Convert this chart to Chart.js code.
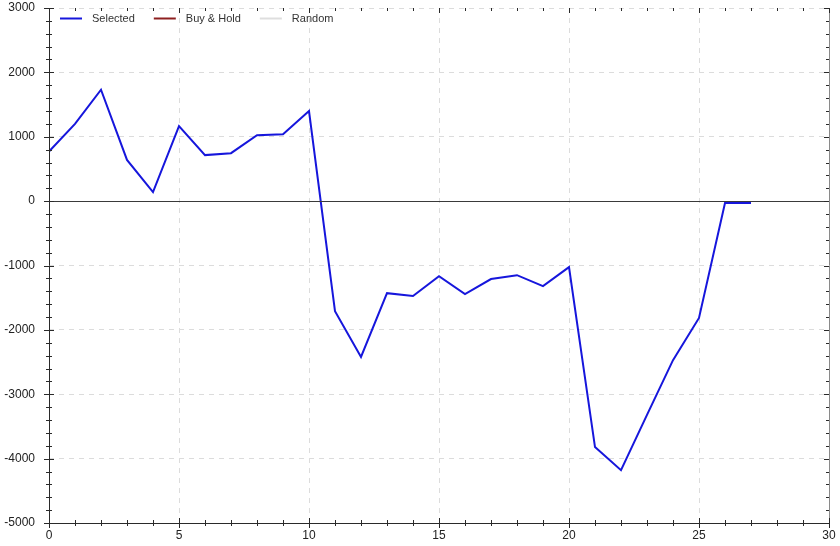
<!DOCTYPE html>
<html>
<head>
    <meta charset="utf-8" />
    <title>Equity curve</title>
    <style>
        html, body { margin: 0; padding: 0; background: #fff; }
        #wrap { width: 840px; height: 546px; }
    </style>
</head>
<body>
    <div id="wrap"><canvas id="myChart" width="840" height="546"></canvas></div>

    <script src="https://cdn.jsdelivr.net/npm/chart.js"></script>
    <script type="text/javascript">
        // trade index and cumulative result of the selected strategy
        const tradeIndex = [0, 1, 2, 3, 4, 5, 6, 7, 8, 9, 10, 11, 12, 13, 14,
            15, 16, 17, 18, 19, 20, 21, 22, 23, 24, 25, 26, 27];
        const selected = [770, 1200, 1730, 640, 140, 1165, 715, 745, 1025, 1040, 1400,
            -1710, -2420, -1430, -1475, -1165, -1445, -1210, -1150, -1320, -1025,
            -3820, -4180, -3320, -2470, -1815, -30, -30];
        const buyHold = [];
        const random = [];

        const seriesNames = ['Selected', 'Buy & Hold', 'Random'];
        const seriesColors = ['#1616dc', '#8e2020', '#dedede'];

        const xMin = 0, xMax = 30, xMajor = 5, xMinor = 1;
        const yMin = -5000, yMax = 3000, yMajor = 1000, yMinor = 200;

        const FONT = 'Liberation Sans, Arial, sans-serif';

        function toPoints(values) {
            return values.map((v, i) => ({ x: tradeIndex[i], y: v }));
        }

        // minor/major tick marks on all four sides, zero line and a flat legend
        const axisDecor = {
            id: 'axisDecor',
            afterDatasetsDraw(chart) {
                const ctx = chart.ctx;
                const a = chart.chartArea;
                const xs = chart.scales.x;
                const ys = chart.scales.y;
                ctx.save();

                // zero line
                const y0 = Math.round(ys.getPixelForValue(0)) + 0.5;
                ctx.strokeStyle = '#3a3a3a';
                ctx.lineWidth = 1;
                ctx.beginPath();
                ctx.moveTo(a.left, y0);
                ctx.lineTo(a.right, y0);
                ctx.stroke();

                // frame
                ctx.strokeStyle = '#2a2a2a';
                ctx.beginPath();
                ctx.moveTo(Math.round(a.left) + 0.5, a.top);
                ctx.lineTo(Math.round(a.left) + 0.5, a.bottom);
                ctx.moveTo(a.left, Math.round(a.bottom) + 0.5);
                ctx.lineTo(a.right, Math.round(a.bottom) + 0.5);
                ctx.stroke();
                ctx.strokeStyle = '#8a8a8a';
                ctx.beginPath();
                ctx.moveTo(Math.round(a.right) + 0.5, a.top);
                ctx.lineTo(Math.round(a.right) + 0.5, a.bottom);
                ctx.stroke();
                ctx.strokeStyle = '#2a2a2a';

                ctx.beginPath();
                for (let v = xMin; v <= xMax; v += xMinor) {
                    const px = Math.round(xs.getPixelForValue(v)) + 0.5;
                    const len = v % xMajor === 0 ? 5 : 3;
                    ctx.moveTo(px, a.bottom - len);
                    ctx.lineTo(px, a.bottom + len);
                    ctx.moveTo(px, a.top);
                    ctx.lineTo(px, a.top + len);
                }
                for (let v = yMin; v <= yMax; v += yMinor) {
                    const py = Math.round(ys.getPixelForValue(v)) + 0.5;
                    const len = v % yMajor === 0 ? 5 : 3;
                    ctx.moveTo(a.left - len, py);
                    ctx.lineTo(a.left + len, py);
                    ctx.moveTo(a.right - len, py);
                    ctx.lineTo(a.right, py);
                }
                ctx.stroke();

                // legend row inside the plot
                ctx.font = '11px ' + FONT;
                ctx.textBaseline = 'middle';
                ctx.fillStyle = '#333';
                let lx = a.left + 11;
                const ly = a.top + 10.5;
                chart.data.datasets.forEach((ds) => {
                    ctx.strokeStyle = ds.borderColor;
                    ctx.lineWidth = 2;
                    ctx.beginPath();
                    ctx.moveTo(lx, ly);
                    ctx.lineTo(lx + 22, ly);
                    ctx.stroke();
                    ctx.fillText(ds.label, lx + 32, ly);
                    lx += 32 + ctx.measureText(ds.label).width + 19;
                });
                ctx.restore();
            }
        };

        const ctx = document.getElementById('myChart');

        new Chart(ctx, {
            type: 'line',
            data: {
                datasets: [{
                    label: seriesNames[0],
                    data: toPoints(selected),
                    borderColor: seriesColors[0],
                    borderWidth: 2,
                    pointRadius: 0,
                    tension: 0
                }, {
                    label: seriesNames[1],
                    data: toPoints(buyHold),
                    borderColor: seriesColors[1],
                    borderWidth: 2,
                    pointRadius: 0
                }, {
                    label: seriesNames[2],
                    data: toPoints(random),
                    borderColor: seriesColors[2],
                    borderWidth: 2,
                    pointRadius: 0
                }]
            },
            options: {
                responsive: false,
                animation: false,
                layout: {
                    padding: { top: 8, right: 11, left: 0, bottom: 0 }
                },
                plugins: {
                    tooltip: { enabled: false },
                    legend: { display: false }
                },
                scales: {
                    x: {
                        type: 'linear',
                        min: xMin,
                        max: xMax,
                        afterFit: (s) => {
                            s.height = 23;
                            s.paddingLeft = 0;
                            s.paddingRight = 0;
                        },
                        ticks: {
                            stepSize: xMajor,
                            padding: 5,
                            color: '#222',
                            font: { family: FONT, size: 12 },
                            callback: (v) => String(v)
                        },
                        grid: {
                            color: '#dcdcdc',
                            drawTicks: false
                        },
                        border: { display: false, dash: [5, 5] }
                    },
                    y: {
                        type: 'linear',
                        min: yMin,
                        max: yMax,
                        afterFit: (s) => {
                            s.width = 49;
                            s.paddingTop = 0;
                            s.paddingBottom = 0;
                        },
                        ticks: {
                            stepSize: yMajor,
                            padding: 14,
                            color: '#222',
                            font: { family: FONT, size: 12 },
                            callback: (v) => String(v)
                        },
                        grid: {
                            color: '#dcdcdc',
                            drawTicks: false
                        },
                        border: { display: false, dash: [5, 5] }
                    }
                }
            },
            plugins: [axisDecor]
        });
    </script>
</body>
</html>
